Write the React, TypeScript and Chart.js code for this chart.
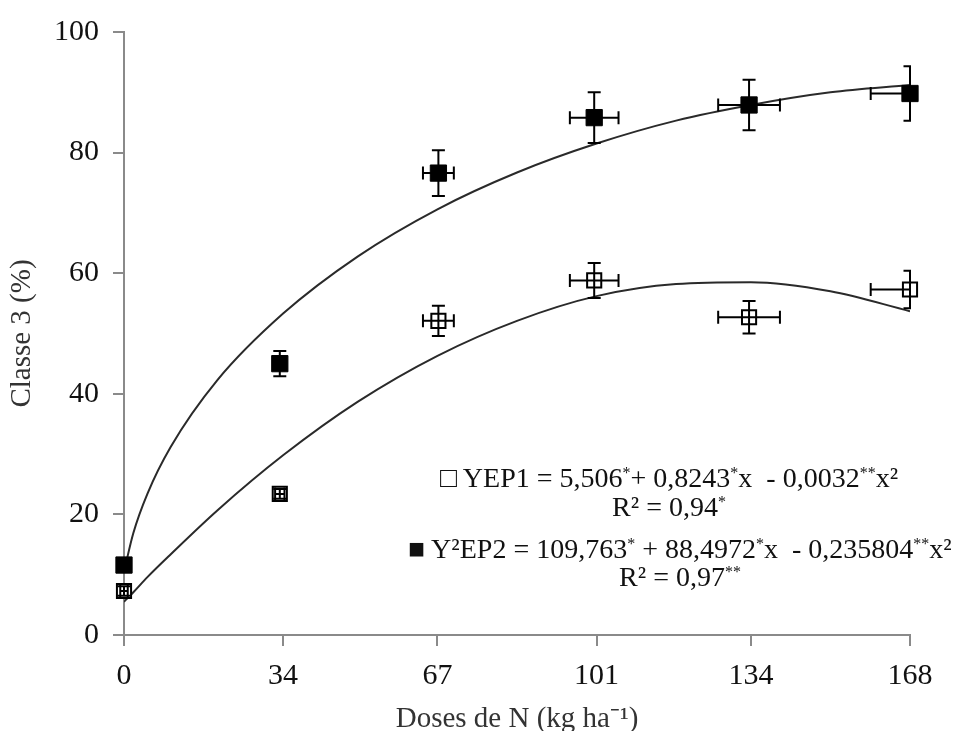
import React, { useEffect, useRef } from "react";
import { Chart, registerables } from "chart.js";

Chart.register(...registerables);

// ---- data ----
const doseTicks = [0, 34, 67, 101, 134, 168];

const doseEP1 = [0, 33.3, 67.2, 100.5, 133.6, 168];
const valEP1 = [7.3, 23.4, 52.1, 58.8, 52.7, 57.3];
const yErrEP1 = [0.8, 0.8, 2.5, 2.9, 2.7, 3.1];
const xErrEP1 = [0.8, 1.0, 3.3, 5.2, 6.6, 8.4];

const doseEP2 = [0, 33.3, 67.2, 100.5, 133.6, 168];
const valEP2 = [11.6, 45.0, 76.6, 85.8, 87.9, 89.8];
const yErrEP2 = [0, 2.1, 3.8, 4.2, 4.2, 4.5];
const xErrEP2 = [0, 0.8, 3.3, 5.2, 6.6, 8.4];

const curveX = [0, 2, 5, 10, 20, 34, 50, 67, 84, 101, 118, 134, 151, 168];
const curveEP1 = [5.5, 7.1, 9.6, 13.4, 20.7, 29.8, 38.7, 46.3, 52.1, 56.2, 58.2, 58.5, 57.0, 53.7];
const curveEP2 = [10.5, 16.9, 23.4, 31.2, 42.3, 53.3, 62.8, 70.6, 76.7, 81.5, 85.3, 87.9, 90.0, 91.2];

const xTitle = "Doses de N (kg ha\u207B\u00B9)";
const yTitle = "Classe 3 (%)";

const SERIF = "'Liberation Serif', 'Times New Roman', serif";

const errorBarPlugin = {
  id: "errorBars",
  afterDatasetsDraw(chart: any) {
    const { ctx, chartArea } = chart;
    const xs = chart.scales.x;
    const ys = chart.scales.y;
    const series = [
      { x: doseEP1, y: valEP1, xe: xErrEP1, ye: yErrEP1 },
      { x: doseEP2, y: valEP2, xe: xErrEP2, ye: yErrEP2 },
    ];
    ctx.save();
    ctx.beginPath();
    ctx.rect(0, 0, chartArea.right + 1, chart.height);
    ctx.clip();
    ctx.strokeStyle = "#000";
    ctx.lineWidth = 2;
    const cap = 6.5;
    for (const s of series) {
      for (let i = 0; i < s.x.length; i++) {
        const px = xs.getPixelForValue(s.x[i]);
        const py = ys.getPixelForValue(s.y[i]);
        if (s.ye[i] > 0) {
          const t = ys.getPixelForValue(s.y[i] + s.ye[i]);
          const b = ys.getPixelForValue(s.y[i] - s.ye[i]);
          ctx.beginPath();
          ctx.moveTo(px, t);
          ctx.lineTo(px, b);
          ctx.moveTo(px - cap, t);
          ctx.lineTo(px + cap, t);
          ctx.moveTo(px - cap, b);
          ctx.lineTo(px + cap, b);
          ctx.stroke();
        }
        if (s.xe[i] > 0) {
          const l = xs.getPixelForValue(s.x[i] - s.xe[i]);
          const r = xs.getPixelForValue(s.x[i] + s.xe[i]);
          ctx.beginPath();
          ctx.moveTo(l, py);
          ctx.lineTo(r, py);
          ctx.moveTo(l, py - cap);
          ctx.lineTo(l, py + cap);
          ctx.moveTo(r, py - cap);
          ctx.lineTo(r, py + cap);
          ctx.stroke();
        }
      }
    }
    ctx.restore();
  },
};

function App() {
  const ref = useRef<HTMLCanvasElement | null>(null);

  useEffect(() => {
    if (!ref.current) return;
    const chart = new Chart(ref.current, {
      type: "scatter",
      data: {
        datasets: [
          {
            label: "EP1",
            data: doseEP1.map((d, i) => ({ x: d, y: valEP1[i] })),
            pointStyle: "rect",
            pointRadius: 10,
            pointBorderWidth: 2,
            pointBorderColor: "#000",
            pointBackgroundColor: "#fff",
            showLine: false,
            clip: false,
          } as any,
          {
            label: "EP2",
            data: doseEP2.map((d, i) => ({ x: d, y: valEP2[i] })),
            pointStyle: "rect",
            pointRadius: 11.5,
            pointBorderWidth: 1,
            pointBorderColor: "#000",
            pointBackgroundColor: "#000",
            showLine: false,
            clip: false,
          } as any,
          {
            label: "fit EP1",
            data: curveX.map((d, i) => ({ x: d, y: curveEP1[i] })),
            showLine: true,
            pointRadius: 0,
            borderColor: "#2a2a2a",
            borderWidth: 2,
            cubicInterpolationMode: "monotone",
          } as any,
          {
            label: "fit EP2",
            data: curveX.map((d, i) => ({ x: d, y: curveEP2[i] })),
            showLine: true,
            pointRadius: 0,
            borderColor: "#2a2a2a",
            borderWidth: 2,
            cubicInterpolationMode: "monotone",
          } as any,
        ],
      },
      options: {
        responsive: false,
        animation: false,
        devicePixelRatio: 1,
        layout: { padding: { top: 29, right: 55, left: 0, bottom: 0 } },
        plugins: {
          legend: { display: false },
          tooltip: { enabled: false },
        },
        scales: {
          x: {
            type: "linear",
            min: 0,
            max: 168,
            afterBuildTicks: (axis: any) => {
              axis.ticks = doseTicks.map((v) => ({ value: v }));
            },
            afterFit: (scale: any) => {
              scale.height = 96;
            },
            ticks: {
              callback: (v: any) => String(v),
              font: { family: SERIF, size: 30 },
              color: "#111",
              padding: 12,
              maxRotation: 0,
            },
            grid: {
              drawOnChartArea: false,
              drawTicks: true,
              tickLength: 11,
              color: "#8a8a8a",
              lineWidth: 2,
            },
            border: { color: "#8a8a8a", width: 2 },
            title: {
              display: true,
              text: xTitle,
              font: { family: SERIF, size: 29, lineHeight: 0.8 },
              color: "#333",
              padding: { top: 0, bottom: 0 },
            },
          },
          y: {
            min: 0,
            max: 100,
            ticks: {
              stepSize: 20,
              font: { family: SERIF, size: 30 },
              color: "#111",
              padding: 14,
            },
            afterFit: (scale: any) => {
              scale.width = 124;
            },
            grid: {
              drawOnChartArea: false,
              drawTicks: true,
              tickLength: 11,
              color: "#8a8a8a",
              lineWidth: 2,
            },
            border: { color: "#8a8a8a", width: 2 },
            title: {
              display: true,
              text: yTitle,
              font: { family: SERIF, size: 29, lineHeight: 1 },
              color: "#333",
              padding: { top: 8, bottom: 0 },
            },
          },
        },
      },
      plugins: [errorBarPlugin],
    } as any);
    return () => chart.destroy();
  }, []);

  const lineStyle = (cx: number, cy: number): React.CSSProperties => ({
    position: "absolute",
    left: cx - 420,
    top: cy - 16,
    width: 840,
    textAlign: "center",
    whiteSpace: "pre",
    fontFamily: SERIF,
    fontSize: 28,
    lineHeight: "32px",
    color: "#111",
  });
  const sup: React.CSSProperties = { fontSize: 16, verticalAlign: "9px", lineHeight: 0 };

  return (
    <div style={{ position: "absolute", left: 0, top: 0, width: 965, height: 731, background: "#fff" }}>
      <canvas ref={ref} width={965} height={731} style={{ display: "block" }} />
      <div style={lineStyle(669, 478)}>
        {"\u25A1 YEP1 = 5,506"}<span style={sup}>*</span>{"+ 0,8243"}<span style={sup}>*</span>{"x  - 0,0032"}<span style={sup}>**</span>{"x\u00B2"}
      </div>
      <div style={lineStyle(669, 507)}>
        {"R\u00B2 = 0,94"}<span style={sup}>*</span>
      </div>
      <div style={lineStyle(680, 549)}>
        {"\u25A0 Y\u00B2EP2 = 109,763"}<span style={sup}>*</span>{" + 88,4972"}<span style={sup}>*</span>{"x  - 0,235804"}<span style={sup}>**</span>{"x\u00B2"}
      </div>
      <div style={lineStyle(680, 577)}>
        {"R\u00B2 = 0,97"}<span style={sup}>**</span>
      </div>
    </div>
  );
}

export default App;
